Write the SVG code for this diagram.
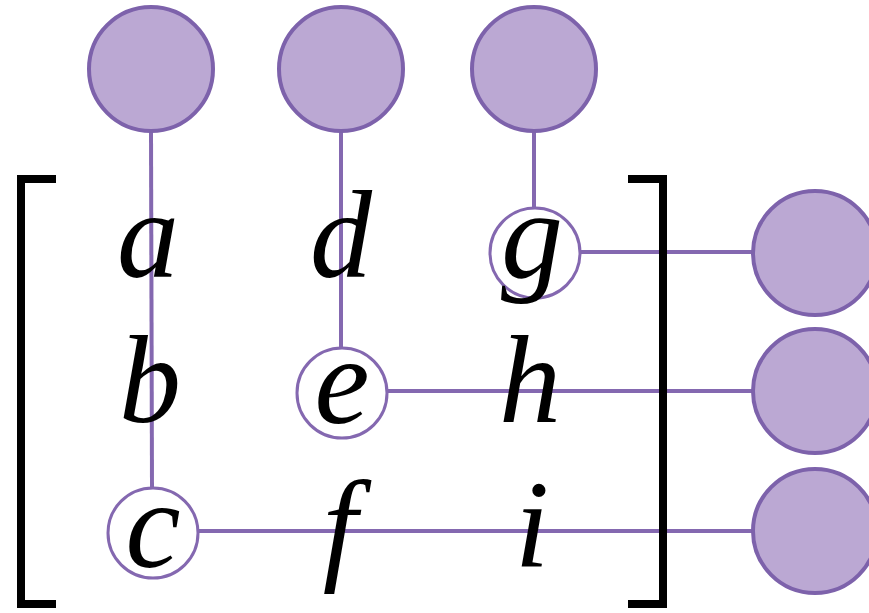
<svg xmlns="http://www.w3.org/2000/svg" width="869" height="613" viewBox="0 0 869 613">
<style>
.big{fill:#bba8d3;stroke:#7d62ab;stroke-width:4}
.small{fill:#ffffff;stroke:#8468b0;stroke-width:3}
.wire{stroke:#8468b0;stroke-width:4;fill:none}
.brk{stroke:#000;stroke-width:8;fill:none}
.lbl{font-family:"Liberation Serif","Times New Roman",serif;font-style:italic;font-size:124px;fill:#000;text-anchor:middle}
</style>
<rect width="869" height="613" fill="#fff"/>
<g id="connectors">
<line class="wire" x1="151" y1="131" x2="152" y2="488"/>
<line class="wire" x1="341" y1="131" x2="341" y2="348"/>
<line class="wire" x1="534" y1="131" x2="534" y2="208"/>
<line class="wire" x1="580" y1="252" x2="754" y2="252"/>
<line class="wire" x1="387" y1="391" x2="754" y2="391"/>
<line class="wire" x1="198" y1="531" x2="754" y2="531"/>
</g>
<g id="top1"><circle class="big" cx="151" cy="69" r="62"/></g>
<g id="top2"><circle class="big" cx="341" cy="69" r="62"/></g>
<g id="top3"><circle class="big" cx="534" cy="69" r="62"/></g>
<g id="right1"><circle class="big" cx="815" cy="253" r="62"/></g>
<g id="right2"><circle class="big" cx="815" cy="391" r="62"/></g>
<g id="right3"><circle class="big" cx="815" cy="531" r="62"/></g>
<g id="bracket-left"><polyline class="brk" points="56,179 21,179 21,604 56,604"/></g>
<g id="bracket-right"><polyline class="brk" points="628,179 663,179 663,604 628,604"/></g>
<g id="node-g"><circle class="small" cx="535" cy="253" r="45"/><text class="lbl" x="532" y="277">g</text></g>
<g id="node-e"><circle class="small" cx="342" cy="393" r="45"/><text class="lbl" x="342" y="423">e</text></g>
<g id="node-c"><circle class="small" cx="153" cy="533" r="45"/><text class="lbl" x="153" y="567">c</text></g>
<g id="node-a"><text class="lbl" x="148" y="277">a</text></g>
<g id="node-d"><text class="lbl" x="341" y="277">d</text></g>
<g id="node-b"><text class="lbl" x="150" y="422">b</text></g>
<g id="node-h"><text class="lbl" x="530" y="422">h</text></g>
<g id="node-f"><text class="lbl" x="340" y="567">f</text></g>
<g id="node-i"><text class="lbl" x="532" y="567">i</text></g>
</svg>
